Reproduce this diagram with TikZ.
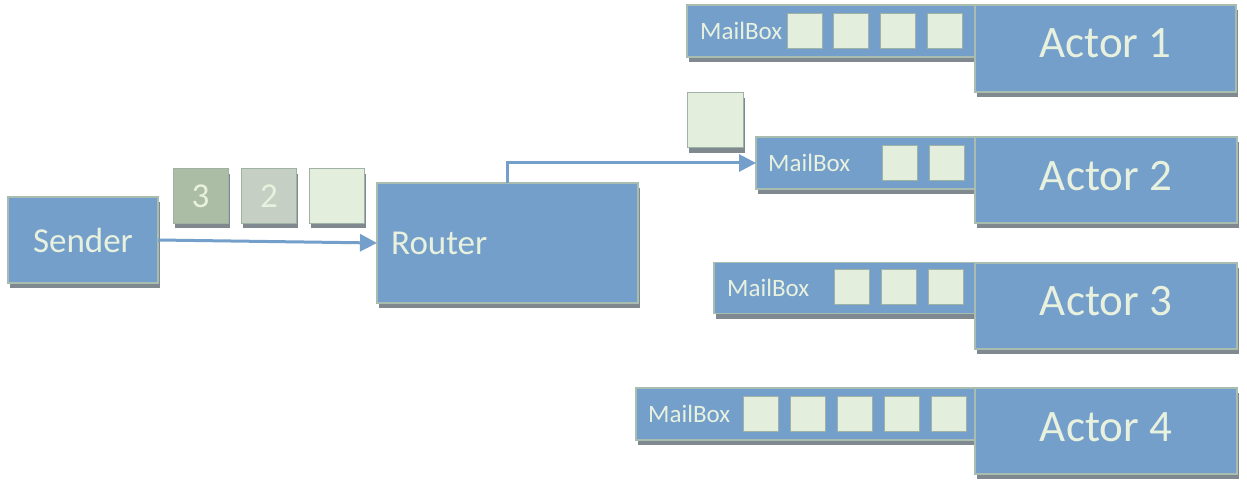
\documentclass[tikz,border=0pt]{standalone}
\usepackage{fontspec}
\setmainfont{Carlito}
\usetikzlibrary{arrows.meta,shadows}
\definecolor{boxblue}{RGB}{116,159,203}
\definecolor{boxedge}{RGB}{168,188,176}
\definecolor{txtcream}{RGB}{232,241,222}
\definecolor{msgfill}{RGB}{227,238,220}
\definecolor{msgedge}{RGB}{160,178,165}
\definecolor{msgthree}{RGB}{171,190,165}
\definecolor{msgtwo}{RGB}{197,207,195}
\definecolor{shadowgray}{RGB}{128,136,144}
\begin{document}
\begin{tikzpicture}[x=1pt,y=-1pt,
  boxshadow/.style={general shadow={fill=shadowgray, shadow xshift=1.5pt, shadow yshift=-5pt}},
  bluebox/.style={draw=boxedge, line width=1.2pt, fill=boxblue, inner sep=0pt, outer sep=0pt, boxshadow},
  msgbox/.style={draw=msgedge, line width=1pt, fill=msgfill, inner sep=0pt, outer sep=0pt, minimum width=55pt, minimum height=54pt, boxshadow, text=txtcream, font=\fontsize{35}{40}\selectfont},
  slot/.style={draw=msgedge, line width=1pt, fill=msgfill, inner sep=0pt, outer sep=0pt, minimum width=35pt, minimum height=35pt},
  bigtxt/.style={text=txtcream, inner sep=0pt, font=\fontsize{35}{40}\selectfont},
  actortxt/.style={text=txtcream, inner sep=0pt, font=\fontsize{45}{50}\selectfont},
  mbtxt/.style={text=txtcream, inner sep=0pt, anchor=west, font=\fontsize{25}{28}\selectfont},
  conn/.style={draw=boxblue, line width=3pt, -{Triangle[length=17pt,width=17pt]}}
]
\useasboundingbox (0,0) rectangle (1247,489);

% Sender and Router
\node[bluebox, minimum width=150pt, minimum height=86pt] (sender) at (83,240) {};
\node[bigtxt] (sendertxt) at (sender.center) {Sender};
\node[bluebox, minimum width=261pt, minimum height=120pt] (router) at (507.5,243) {};
\node[bigtxt, anchor=west] (routertxt) at ([xshift=14pt]router.west) {Router};

% messages in transit
\node[msgbox, fill=msgthree] (m3) at (200.5,196) {3};
\node[msgbox, fill=msgtwo] (m2) at (269,196) {2};
\node[msgbox] (m1) at (336.5,196) {};
\node[msgbox, minimum width=56pt, minimum height=55pt] (mf) at (715,120.5) {};

% Actor 1
\node[bluebox, minimum width=288pt, minimum height=52pt] (mb1) at (831,31) {};
\node[bluebox, minimum width=261pt, minimum height=87pt] (a1) at (1105.5,48.5) {};
\node[mbtxt] (mb1txt) at ([xshift=13pt]mb1.west) {MailBox};
\node[actortxt] (a1txt) at ([yshift=5pt]a1.center) {Actor 1};
\foreach \x [count=\i] in {804.5,851,898,945}
  \node[slot] (s1-\i) at (\x,31.5) {};

% Actor 2
\node[bluebox, minimum width=219pt, minimum height=52pt] (mb2) at (865.5,163) {};
\node[bluebox, minimum width=262pt, minimum height=86pt] (a2) at (1106,180) {};
\node[mbtxt] (mb2txt) at ([xshift=12pt]mb2.west) {MailBox};
\node[actortxt] (a2txt) at ([yshift=4pt]a2.center) {Actor 2};
\foreach \x [count=\i] in {899.5,946.5}
  \node[slot] (s2-\i) at (\x,163.5) {};

% Actor 3
\node[bluebox, minimum width=261pt, minimum height=51pt] (mb3) at (844.5,288) {};
\node[bluebox, minimum width=262pt, minimum height=86pt] (a3) at (1106,306) {};
\node[mbtxt] (mb3txt) at ([xshift=13pt]mb3.west) {MailBox};
\node[actortxt] (a3txt) at ([yshift=5pt]a3.center) {Actor 3};
\foreach \x [count=\i] in {851.5,898.5,945.5}
  \node[slot] (s3-\i) at (\x,286.5) {};

% Actor 4
\node[bluebox, minimum width=339pt, minimum height=52pt] (mb4) at (805.5,414) {};
\node[bluebox, minimum width=262pt, minimum height=86pt] (a4) at (1106,431) {};
\node[mbtxt] (mb4txt) at ([xshift=12pt]mb4.west) {MailBox};
\node[actortxt] (a4txt) at ([yshift=4pt]a4.center) {Actor 4};
\foreach \x [count=\i] in {760.5,807.5,854.5,901.5,948.5}
  \node[slot] (s4-\i) at (\x,413.5) {};

% connectors
\draw[conn] (sender.east) -- (router.west);
\draw[conn] (router.north) |- (mb2.west);
\end{tikzpicture}
\end{document}
